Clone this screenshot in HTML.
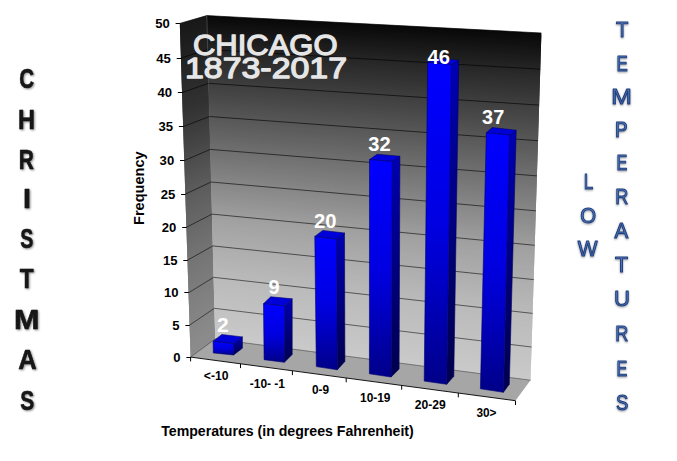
<!DOCTYPE html>
<html><head><meta charset="utf-8"><title>Chicago Christmas Low Temperatures</title>
<style>
html,body{margin:0;padding:0;background:#fff;}
body{width:677px;height:461px;overflow:hidden;font-family:"Liberation Sans",sans-serif;}
svg{display:block;}
text{font-family:"Liberation Sans",sans-serif;}
</style></head><body>
<svg width="677" height="461" viewBox="0 0 677 461">
<defs>
<linearGradient id="gBack" x1="0" y1="0" x2="0" y2="1">
<stop offset="0" stop-color="#0a0a0a"/><stop offset="0.15" stop-color="#222"/><stop offset="0.5" stop-color="#7a7a7a"/><stop offset="0.8" stop-color="#b8b8b8"/><stop offset="1" stop-color="#d0d0d0"/>
</linearGradient>
<linearGradient id="gSide" x1="0" y1="0" x2="0" y2="1">
<stop offset="0" stop-color="#111"/><stop offset="0.5" stop-color="#555"/><stop offset="1" stop-color="#8e8e8e"/>
</linearGradient>
<linearGradient id="gFront" x1="0" y1="0" x2="0" y2="1">
<stop offset="0" stop-color="#0000ff"/><stop offset="0.5" stop-color="#0000e2"/><stop offset="0.68" stop-color="#0000c6"/><stop offset="1" stop-color="#000088"/>
</linearGradient>
<linearGradient id="gBSide" x1="0" y1="0" x2="0" y2="1">
<stop offset="0" stop-color="#0000b4"/><stop offset="1" stop-color="#00004c"/>
</linearGradient>
<linearGradient id="gLet" x1="0" y1="0" x2="0" y2="1">
<stop offset="0" stop-color="#5a86cc"/><stop offset="1" stop-color="#4068ae"/>
</linearGradient>
<filter id="sh" x="-30%" y="-30%" width="160%" height="160%"><feGaussianBlur in="SourceAlpha" stdDeviation="0.9"/><feOffset dx="0.5" dy="1"/><feComponentTransfer><feFuncA type="linear" slope="0.45"/></feComponentTransfer><feMerge><feMergeNode/><feMergeNode in="SourceGraphic"/></feMerge></filter>
<filter id="sh2" x="-30%" y="-30%" width="160%" height="160%"><feGaussianBlur in="SourceAlpha" stdDeviation="0.8"/><feOffset dx="0.4" dy="0.8"/><feComponentTransfer><feFuncA type="linear" slope="0.4"/></feComponentTransfer><feMerge><feMergeNode/><feMergeNode in="SourceGraphic"/></feMerge></filter>
<linearGradient id="gCorner" gradientUnits="userSpaceOnUse" x1="0" y1="15" x2="0" y2="340"><stop offset="0" stop-color="#555" stop-opacity="0.9"/><stop offset="0.25" stop-color="#555" stop-opacity="0.5"/><stop offset="0.5" stop-color="#666" stop-opacity="0"/><stop offset="1" stop-color="#666" stop-opacity="0"/></linearGradient>
</defs>
<rect width="677" height="461" fill="#fff"/>

<g shape-rendering="geometricPrecision">
<polygon points="179.8,23.4 206.8,15.6 206.9,19.6 179.9,27.5" fill="#181818"/>
<polygon points="179.9,25.4 206.9,17.6 207.0,21.6 180.0,29.5" fill="#191919"/>
<polygon points="179.9,27.5 206.9,19.6 207.0,23.6 180.1,31.6" fill="#1a1a1a"/>
<polygon points="180.0,29.5 207.0,21.6 207.1,25.6 180.1,33.6" fill="#1a1a1a"/>
<polygon points="180.1,31.6 207.0,23.6 207.1,27.6 180.2,35.7" fill="#1b1b1b"/>
<polygon points="180.1,33.6 207.1,25.6 207.2,29.6 180.3,37.7" fill="#1b1b1b"/>
<polygon points="180.2,35.7 207.1,27.6 207.2,31.6 180.3,39.8" fill="#1c1c1c"/>
<polygon points="180.3,37.7 207.2,29.6 207.3,33.6 180.4,41.8" fill="#1d1d1d"/>
<polygon points="180.3,39.8 207.2,31.6 207.3,35.6 180.5,43.9" fill="#1d1d1d"/>
<polygon points="180.4,41.8 207.3,33.6 207.4,37.6 180.5,45.9" fill="#1e1e1e"/>
<polygon points="180.5,43.9 207.3,35.6 207.4,39.6 180.6,48.0" fill="#1e1e1e"/>
<polygon points="180.5,45.9 207.4,37.6 207.5,41.6 180.7,50.0" fill="#1f1f1f"/>
<polygon points="180.6,48.0 207.4,39.6 207.5,43.6 180.7,52.0" fill="#202020"/>
<polygon points="180.7,50.0 207.5,41.6 207.6,45.6 180.8,54.1" fill="#202020"/>
<polygon points="180.7,52.0 207.5,43.6 207.6,47.6 180.9,56.1" fill="#212121"/>
<polygon points="180.8,54.1 207.6,45.6 207.7,49.6 180.9,58.1" fill="#212121"/>
<polygon points="180.9,56.1 207.6,47.6 207.7,51.6 181.0,60.2" fill="#222222"/>
<polygon points="180.9,58.1 207.7,49.6 207.8,53.6 181.1,62.2" fill="#232323"/>
<polygon points="181.0,60.2 207.7,51.6 207.8,55.6 181.1,64.2" fill="#232323"/>
<polygon points="181.1,62.2 207.8,53.6 207.9,57.6 181.2,66.3" fill="#242424"/>
<polygon points="181.1,64.2 207.8,55.6 207.9,59.5 181.3,68.3" fill="#252525"/>
<polygon points="181.2,66.3 207.9,57.6 208.0,61.5 181.3,70.3" fill="#252525"/>
<polygon points="181.3,68.3 207.9,59.5 208.0,63.5 181.4,72.4" fill="#262626"/>
<polygon points="181.3,70.3 208.0,61.5 208.1,65.5 181.5,74.4" fill="#262626"/>
<polygon points="181.4,72.4 208.0,63.5 208.1,67.5 181.5,76.4" fill="#272727"/>
<polygon points="181.5,74.4 208.1,65.5 208.2,69.4 181.6,78.4" fill="#282828"/>
<polygon points="181.5,76.4 208.1,67.5 208.3,71.4 181.6,80.5" fill="#282828"/>
<polygon points="181.6,78.4 208.2,69.4 208.3,73.4 181.7,82.5" fill="#292929"/>
<polygon points="181.6,80.5 208.3,71.4 208.4,75.4 181.8,84.5" fill="#292929"/>
<polygon points="181.7,82.5 208.3,73.4 208.4,77.3 181.8,86.5" fill="#2a2a2a"/>
<polygon points="181.8,84.5 208.4,75.4 208.5,79.3 181.9,88.6" fill="#2b2b2b"/>
<polygon points="181.8,86.5 208.4,77.3 208.5,81.3 182.0,90.6" fill="#2b2b2b"/>
<polygon points="181.9,88.6 208.5,79.3 208.6,83.3 182.0,92.6" fill="#2c2c2c"/>
<polygon points="182.0,90.6 208.5,81.3 208.6,85.2 182.1,94.6" fill="#2c2c2c"/>
<polygon points="182.0,92.6 208.6,83.3 208.7,87.2 182.2,96.6" fill="#2d2d2d"/>
<polygon points="182.1,94.6 208.6,85.2 208.7,89.2 182.2,98.6" fill="#2e2e2e"/>
<polygon points="182.2,96.6 208.7,87.2 208.8,91.1 182.3,100.7" fill="#2e2e2e"/>
<polygon points="182.2,98.6 208.7,89.2 208.8,93.1 182.4,102.7" fill="#2f2f2f"/>
<polygon points="182.3,100.7 208.8,91.1 208.9,95.0 182.4,104.7" fill="#303030"/>
<polygon points="182.4,102.7 208.8,93.1 208.9,97.0 182.5,106.7" fill="#303030"/>
<polygon points="182.4,104.7 208.9,95.0 209.0,99.0 182.6,108.7" fill="#313131"/>
<polygon points="182.5,106.7 208.9,97.0 209.0,100.9 182.6,110.7" fill="#313131"/>
<polygon points="182.6,108.7 209.0,99.0 209.1,102.9 182.7,112.7" fill="#323232"/>
<polygon points="182.6,110.7 209.0,100.9 209.1,104.8 182.8,114.7" fill="#333333"/>
<polygon points="182.7,112.7 209.1,102.9 209.2,106.8 182.8,116.7" fill="#343434"/>
<polygon points="182.8,114.7 209.1,104.8 209.2,108.7 182.9,118.7" fill="#353535"/>
<polygon points="182.8,116.7 209.2,106.8 209.3,110.7 183.0,120.7" fill="#363636"/>
<polygon points="182.9,118.7 209.2,108.7 209.3,112.6 183.0,122.7" fill="#373737"/>
<polygon points="183.0,120.7 209.3,110.7 209.4,114.6 183.1,124.7" fill="#383838"/>
<polygon points="183.0,122.7 209.3,112.6 209.4,116.5 183.1,126.7" fill="#393939"/>
<polygon points="183.1,124.7 209.4,114.6 209.5,118.5 183.2,128.7" fill="#3a3a3a"/>
<polygon points="183.1,126.7 209.4,116.5 209.5,120.4 183.3,130.7" fill="#3b3b3b"/>
<polygon points="183.2,128.7 209.5,118.5 209.6,122.4 183.3,132.7" fill="#3c3c3c"/>
<polygon points="183.3,130.7 209.5,120.4 209.6,124.3 183.4,134.7" fill="#3d3d3d"/>
<polygon points="183.3,132.7 209.6,122.4 209.7,126.2 183.5,136.7" fill="#3e3e3e"/>
<polygon points="183.4,134.7 209.6,124.3 209.7,128.2 183.5,138.7" fill="#3f3f3f"/>
<polygon points="183.5,136.7 209.7,126.2 209.8,130.1 183.6,140.7" fill="#404040"/>
<polygon points="183.5,138.7 209.7,128.2 209.8,132.1 183.7,142.7" fill="#414141"/>
<polygon points="183.6,140.7 209.8,130.1 209.9,134.0 183.7,144.7" fill="#424242"/>
<polygon points="183.7,142.7 209.8,132.1 209.9,135.9 183.8,146.7" fill="#434343"/>
<polygon points="183.7,144.7 209.9,134.0 210.0,137.9 183.9,148.7" fill="#444444"/>
<polygon points="183.8,146.7 209.9,135.9 210.0,139.8 183.9,150.7" fill="#454545"/>
<polygon points="183.9,148.7 210.0,137.9 210.1,141.7 184.0,152.6" fill="#464646"/>
<polygon points="183.9,150.7 210.0,139.8 210.1,143.6 184.0,154.6" fill="#474747"/>
<polygon points="184.0,152.6 210.1,141.7 210.2,145.6 184.1,156.6" fill="#484848"/>
<polygon points="184.0,154.6 210.1,143.6 210.2,147.5 184.2,158.6" fill="#494949"/>
<polygon points="184.1,156.6 210.2,145.6 210.3,149.4 184.2,160.6" fill="#4a4a4a"/>
<polygon points="184.2,158.6 210.2,147.5 210.3,151.3 184.3,162.6" fill="#4b4b4b"/>
<polygon points="184.2,160.6 210.3,149.4 210.4,153.3 184.4,164.5" fill="#4c4c4c"/>
<polygon points="184.3,162.6 210.3,151.3 210.4,155.2 184.4,166.5" fill="#4d4d4d"/>
<polygon points="184.4,164.5 210.4,153.3 210.5,157.1 184.5,168.5" fill="#4e4e4e"/>
<polygon points="184.4,166.5 210.4,155.2 210.5,159.0 184.6,170.5" fill="#4f4f4f"/>
<polygon points="184.5,168.5 210.5,157.1 210.6,160.9 184.6,172.4" fill="#505050"/>
<polygon points="184.6,170.5 210.5,159.0 210.6,162.9 184.7,174.4" fill="#515151"/>
<polygon points="184.6,172.4 210.6,160.9 210.7,164.8 184.8,176.4" fill="#525252"/>
<polygon points="184.7,174.4 210.6,162.9 210.7,166.7 184.8,178.4" fill="#535353"/>
<polygon points="184.8,176.4 210.7,164.8 210.8,168.6 184.9,180.3" fill="#545454"/>
<polygon points="184.8,178.4 210.7,166.7 210.8,170.5 184.9,182.3" fill="#555555"/>
<polygon points="184.9,180.3 210.8,168.6 210.9,172.4 185.0,184.3" fill="#565656"/>
<polygon points="184.9,182.3 210.8,170.5 210.9,174.3 185.1,186.2" fill="#575757"/>
<polygon points="185.0,184.3 210.9,172.4 211.0,176.2 185.1,188.2" fill="#585858"/>
<polygon points="185.1,186.2 210.9,174.3 211.0,178.1 185.2,190.2" fill="#595959"/>
<polygon points="185.1,188.2 211.0,176.2 211.1,180.0 185.3,192.1" fill="#5a5a5a"/>
<polygon points="185.2,190.2 211.0,178.1 211.1,182.0 185.3,194.1" fill="#5b5b5b"/>
<polygon points="185.3,192.1 211.1,180.0 211.2,183.9 185.4,196.1" fill="#5c5c5c"/>
<polygon points="185.3,194.1 211.1,182.0 211.2,185.8 185.5,198.0" fill="#5c5c5c"/>
<polygon points="185.4,196.1 211.2,183.9 211.3,187.7 185.5,200.0" fill="#5d5d5d"/>
<polygon points="185.5,198.0 211.2,185.8 211.3,189.6 185.6,201.9" fill="#5e5e5e"/>
<polygon points="185.5,200.0 211.3,187.7 211.4,191.4 185.6,203.9" fill="#5e5e5e"/>
<polygon points="185.6,201.9 211.3,189.6 211.4,193.3 185.7,205.9" fill="#5f5f5f"/>
<polygon points="185.6,203.9 211.4,191.4 211.5,195.2 185.8,207.8" fill="#606060"/>
<polygon points="185.7,205.9 211.4,193.3 211.5,197.1 185.8,209.8" fill="#616161"/>
<polygon points="185.8,207.8 211.5,195.2 211.6,199.0 185.9,211.7" fill="#616161"/>
<polygon points="185.8,209.8 211.5,197.1 211.6,200.9 186.0,213.7" fill="#626262"/>
<polygon points="185.9,211.7 211.6,199.0 211.7,202.8 186.0,215.6" fill="#636363"/>
<polygon points="186.0,213.7 211.6,200.9 211.7,204.7 186.1,217.6" fill="#636363"/>
<polygon points="186.0,215.6 211.7,202.8 211.8,206.6 186.1,219.5" fill="#646464"/>
<polygon points="186.1,217.6 211.7,204.7 211.8,208.5 186.2,221.5" fill="#656565"/>
<polygon points="186.1,219.5 211.8,206.6 211.9,210.3 186.3,223.4" fill="#666666"/>
<polygon points="186.2,221.5 211.8,208.5 211.9,212.2 186.3,225.4" fill="#666666"/>
<polygon points="186.3,223.4 211.9,210.3 212.0,214.1 186.4,227.3" fill="#676767"/>
<polygon points="186.3,225.4 211.9,212.2 212.0,216.0 186.5,229.3" fill="#686868"/>
<polygon points="186.4,227.3 212.0,214.1 212.1,217.9 186.5,231.2" fill="#686868"/>
<polygon points="186.5,229.3 212.0,216.0 212.1,219.7 186.6,233.1" fill="#696969"/>
<polygon points="186.5,231.2 212.1,217.9 212.2,221.6 186.7,235.1" fill="#6a6a6a"/>
<polygon points="186.6,233.1 212.1,219.7 212.2,223.5 186.7,237.0" fill="#6a6a6a"/>
<polygon points="186.7,235.1 212.2,221.6 212.2,225.4 186.8,239.0" fill="#6b6b6b"/>
<polygon points="186.7,237.0 212.2,223.5 212.3,227.2 186.8,240.9" fill="#6c6c6c"/>
<polygon points="186.8,239.0 212.2,225.4 212.3,229.1 186.9,242.8" fill="#6d6d6d"/>
<polygon points="186.8,240.9 212.3,227.2 212.4,231.0 187.0,244.8" fill="#6d6d6d"/>
<polygon points="186.9,242.8 212.3,229.1 212.4,232.8 187.0,246.7" fill="#6e6e6e"/>
<polygon points="187.0,244.8 212.4,231.0 212.5,234.7 187.1,248.6" fill="#6f6f6f"/>
<polygon points="187.0,246.7 212.4,232.8 212.5,236.6 187.2,250.6" fill="#6f6f6f"/>
<polygon points="187.1,248.6 212.5,234.7 212.6,238.4 187.2,252.5" fill="#707070"/>
<polygon points="187.2,250.6 212.5,236.6 212.6,240.3 187.3,254.4" fill="#717171"/>
<polygon points="187.2,252.5 212.6,238.4 212.7,242.2 187.3,256.4" fill="#727272"/>
<polygon points="187.3,254.4 212.6,240.3 212.7,244.0 187.4,258.3" fill="#727272"/>
<polygon points="187.3,256.4 212.7,242.2 212.8,245.9 187.5,260.2" fill="#737373"/>
<polygon points="187.4,258.3 212.7,244.0 212.8,247.7 187.5,262.1" fill="#747474"/>
<polygon points="187.5,260.2 212.8,245.9 212.9,249.6 187.6,264.1" fill="#747474"/>
<polygon points="187.5,262.1 212.8,247.7 212.9,251.5 187.7,266.0" fill="#757575"/>
<polygon points="187.6,264.1 212.9,249.6 213.0,253.3 187.7,267.9" fill="#757575"/>
<polygon points="187.7,266.0 212.9,251.5 213.0,255.2 187.8,269.8" fill="#767676"/>
<polygon points="187.7,267.9 213.0,253.3 213.1,257.0 187.8,271.8" fill="#767676"/>
<polygon points="187.8,269.8 213.0,255.2 213.1,258.9 187.9,273.7" fill="#777777"/>
<polygon points="187.8,271.8 213.1,257.0 213.2,260.7 188.0,275.6" fill="#777777"/>
<polygon points="187.9,273.7 213.1,258.9 213.2,262.6 188.0,277.5" fill="#787878"/>
<polygon points="188.0,275.6 213.2,260.7 213.3,264.4 188.1,279.4" fill="#787878"/>
<polygon points="188.0,277.5 213.2,262.6 213.3,266.3 188.1,281.3" fill="#797979"/>
<polygon points="188.1,279.4 213.3,264.4 213.4,268.1 188.2,283.3" fill="#797979"/>
<polygon points="188.1,281.3 213.3,266.3 213.4,269.9 188.3,285.2" fill="#7a7a7a"/>
<polygon points="188.2,283.3 213.4,268.1 213.5,271.8 188.3,287.1" fill="#7a7a7a"/>
<polygon points="188.3,285.2 213.4,269.9 213.5,273.6 188.4,289.0" fill="#7b7b7b"/>
<polygon points="188.3,287.1 213.5,271.8 213.5,275.5 188.5,290.9" fill="#7c7c7c"/>
<polygon points="188.4,289.0 213.5,273.6 213.6,277.3 188.5,292.8" fill="#7c7c7c"/>
<polygon points="188.5,290.9 213.5,275.5 213.6,279.1 188.6,294.7" fill="#7d7d7d"/>
<polygon points="188.5,292.8 213.6,277.3 213.7,281.0 188.6,296.6" fill="#7d7d7d"/>
<polygon points="188.6,294.7 213.6,279.1 213.7,282.8 188.7,298.5" fill="#7e7e7e"/>
<polygon points="188.6,296.6 213.7,281.0 213.8,284.6 188.8,300.4" fill="#7e7e7e"/>
<polygon points="188.7,298.5 213.7,282.8 213.8,286.5 188.8,302.3" fill="#7f7f7f"/>
<polygon points="188.8,300.4 213.8,284.6 213.9,288.3 188.9,304.2" fill="#7f7f7f"/>
<polygon points="188.8,302.3 213.8,286.5 213.9,290.1 189.0,306.1" fill="#808080"/>
<polygon points="188.9,304.2 213.9,288.3 214.0,291.9 189.0,308.0" fill="#808080"/>
<polygon points="189.0,306.1 213.9,290.1 214.0,293.8 189.1,309.9" fill="#818181"/>
<polygon points="189.0,308.0 214.0,291.9 214.1,295.6 189.1,311.8" fill="#818181"/>
<polygon points="189.1,309.9 214.0,293.8 214.1,297.4 189.2,313.7" fill="#828282"/>
<polygon points="189.1,311.8 214.1,295.6 214.2,299.2 189.3,315.6" fill="#828282"/>
<polygon points="189.2,313.7 214.1,297.4 214.2,301.1 189.3,317.5" fill="#838383"/>
<polygon points="189.3,315.6 214.2,299.2 214.3,302.9 189.4,319.4" fill="#838383"/>
<polygon points="189.3,317.5 214.2,301.1 214.3,304.7 189.4,321.3" fill="#848484"/>
<polygon points="189.4,319.4 214.3,302.9 214.4,306.5 189.5,323.2" fill="#848484"/>
<polygon points="189.4,321.3 214.3,304.7 214.4,308.3 189.6,325.1" fill="#858585"/>
<polygon points="189.5,323.2 214.4,306.5 214.5,310.1 189.6,327.0" fill="#858585"/>
<polygon points="189.6,325.1 214.4,308.3 214.5,312.0 189.7,328.9" fill="#868686"/>
<polygon points="189.6,327.0 214.5,310.1 214.5,313.8 189.7,330.8" fill="#868686"/>
<polygon points="189.7,328.9 214.5,312.0 214.6,315.6 189.8,332.6" fill="#878787"/>
<polygon points="189.7,330.8 214.5,313.8 214.6,317.4 189.9,334.5" fill="#878787"/>
<polygon points="189.8,332.6 214.6,315.6 214.7,319.2 189.9,336.4" fill="#888888"/>
<polygon points="189.9,334.5 214.6,317.4 214.7,321.0 190.0,338.3" fill="#888888"/>
<polygon points="189.9,336.4 214.7,319.2 214.8,322.8 190.1,340.2" fill="#898989"/>
<polygon points="190.0,338.3 214.7,321.0 214.8,324.6 190.1,342.1" fill="#898989"/>
<polygon points="190.1,340.2 214.8,322.8 214.9,326.4 190.2,343.9" fill="#8a8a8a"/>
<polygon points="190.1,342.1 214.8,324.6 214.9,328.2 190.2,345.8" fill="#8a8a8a"/>
<polygon points="190.2,343.9 214.9,326.4 215.0,330.0 190.3,347.7" fill="#8a8a8a"/>
<polygon points="190.2,345.8 214.9,328.2 215.0,331.8 190.4,349.6" fill="#8b8b8b"/>
<polygon points="190.3,347.7 215.0,330.0 215.1,333.6 190.4,351.5" fill="#8b8b8b"/>
<polygon points="190.4,349.6 215.0,331.8 215.1,335.4 190.5,353.3" fill="#8b8b8b"/>
<polygon points="190.4,351.5 215.1,333.6 215.2,337.2 190.5,355.2" fill="#8b8b8b"/>
<polygon points="190.5,353.3 215.1,335.4 215.2,339.0 190.6,357.1" fill="#8c8c8c"/>
<polygon points="190.5,355.2 215.2,337.2 215.2,339.0 190.6,357.1" fill="#8c8c8c"/>
<polygon points="206.8,15.6 541.4,33.0 541.3,37.3 206.9,19.6" fill="#090909"/>
<polygon points="206.9,17.6 541.3,35.1 541.2,39.4 207.0,21.6" fill="#0b0b0b"/>
<polygon points="206.9,19.6 541.3,37.3 541.1,41.6 207.0,23.6" fill="#0c0c0c"/>
<polygon points="207.0,21.6 541.2,39.4 541.1,43.7 207.1,25.6" fill="#0e0e0e"/>
<polygon points="207.0,23.6 541.1,41.6 541.0,45.8 207.1,27.6" fill="#101010"/>
<polygon points="207.1,25.6 541.1,43.7 540.9,48.0 207.2,29.6" fill="#111111"/>
<polygon points="207.1,27.6 541.0,45.8 540.9,50.1 207.2,31.6" fill="#131313"/>
<polygon points="207.2,29.6 540.9,48.0 540.8,52.2 207.3,33.6" fill="#151515"/>
<polygon points="207.2,31.6 540.9,50.1 540.7,54.4 207.3,35.6" fill="#171717"/>
<polygon points="207.3,33.6 540.8,52.2 540.7,56.5 207.4,37.6" fill="#181818"/>
<polygon points="207.3,35.6 540.7,54.4 540.6,58.6 207.4,39.6" fill="#1a1a1a"/>
<polygon points="207.4,37.6 540.7,56.5 540.5,60.7 207.5,41.6" fill="#1c1c1c"/>
<polygon points="207.4,39.6 540.6,58.6 540.5,62.9 207.5,43.6" fill="#1d1d1d"/>
<polygon points="207.5,41.6 540.5,60.7 540.4,65.0 207.6,45.6" fill="#1f1f1f"/>
<polygon points="207.5,43.6 540.5,62.9 540.3,67.1 207.6,47.6" fill="#212121"/>
<polygon points="207.6,45.6 540.4,65.0 540.3,69.2 207.7,49.6" fill="#232323"/>
<polygon points="207.6,47.6 540.3,67.1 540.2,71.4 207.7,51.6" fill="#242424"/>
<polygon points="207.7,49.6 540.3,69.2 540.1,73.5 207.8,53.6" fill="#262626"/>
<polygon points="207.7,51.6 540.2,71.4 540.1,75.6 207.8,55.6" fill="#282828"/>
<polygon points="207.8,53.6 540.1,73.5 540.0,77.7 207.9,57.6" fill="#292929"/>
<polygon points="207.8,55.6 540.1,75.6 539.9,79.8 207.9,59.5" fill="#2b2b2b"/>
<polygon points="207.9,57.6 540.0,77.7 539.9,81.9 208.0,61.5" fill="#2c2c2c"/>
<polygon points="207.9,59.5 539.9,79.8 539.8,84.1 208.0,63.5" fill="#2e2e2e"/>
<polygon points="208.0,61.5 539.9,81.9 539.7,86.2 208.1,65.5" fill="#2f2f2f"/>
<polygon points="208.0,63.5 539.8,84.1 539.7,88.3 208.1,67.5" fill="#313131"/>
<polygon points="208.1,65.5 539.7,86.2 539.6,90.4 208.2,69.4" fill="#323232"/>
<polygon points="208.1,67.5 539.7,88.3 539.5,92.5 208.3,71.4" fill="#333333"/>
<polygon points="208.2,69.4 539.6,90.4 539.5,94.6 208.3,73.4" fill="#353535"/>
<polygon points="208.3,71.4 539.5,92.5 539.4,96.7 208.4,75.4" fill="#363636"/>
<polygon points="208.3,73.4 539.5,94.6 539.3,98.8 208.4,77.3" fill="#383838"/>
<polygon points="208.4,75.4 539.4,96.7 539.3,100.9 208.5,79.3" fill="#393939"/>
<polygon points="208.4,77.3 539.3,98.8 539.2,103.0 208.5,81.3" fill="#3b3b3b"/>
<polygon points="208.5,79.3 539.3,100.9 539.1,105.1 208.6,83.3" fill="#3c3c3c"/>
<polygon points="208.5,81.3 539.2,103.0 539.1,107.2 208.6,85.2" fill="#3e3e3e"/>
<polygon points="208.6,83.3 539.1,105.1 539.0,109.3 208.7,87.2" fill="#3f3f3f"/>
<polygon points="208.6,85.2 539.1,107.2 538.9,111.4 208.7,89.2" fill="#414141"/>
<polygon points="208.7,87.2 539.0,109.3 538.9,113.5 208.8,91.1" fill="#424242"/>
<polygon points="208.7,89.2 538.9,111.4 538.8,115.6 208.8,93.1" fill="#444444"/>
<polygon points="208.8,91.1 538.9,113.5 538.7,117.7 208.9,95.0" fill="#454545"/>
<polygon points="208.8,93.1 538.8,115.6 538.7,119.8 208.9,97.0" fill="#464646"/>
<polygon points="208.9,95.0 538.7,117.7 538.6,121.9 209.0,99.0" fill="#484848"/>
<polygon points="208.9,97.0 538.7,119.8 538.5,124.0 209.0,100.9" fill="#494949"/>
<polygon points="209.0,99.0 538.6,121.9 538.5,126.1 209.1,102.9" fill="#4b4b4b"/>
<polygon points="209.0,100.9 538.5,124.0 538.4,128.2 209.1,104.8" fill="#4c4c4c"/>
<polygon points="209.1,102.9 538.5,126.1 538.3,130.3 209.2,106.8" fill="#4e4e4e"/>
<polygon points="209.1,104.8 538.4,128.2 538.3,132.3 209.2,108.7" fill="#4f4f4f"/>
<polygon points="209.2,106.8 538.3,130.3 538.2,134.4 209.3,110.7" fill="#515151"/>
<polygon points="209.2,108.7 538.3,132.3 538.2,136.5 209.3,112.6" fill="#525252"/>
<polygon points="209.3,110.7 538.2,134.4 538.1,138.6 209.4,114.6" fill="#535353"/>
<polygon points="209.3,112.6 538.2,136.5 538.0,140.7 209.4,116.5" fill="#555555"/>
<polygon points="209.4,114.6 538.1,138.6 538.0,142.8 209.5,118.5" fill="#565656"/>
<polygon points="209.4,116.5 538.0,140.7 537.9,144.8 209.5,120.4" fill="#585858"/>
<polygon points="209.5,118.5 538.0,142.8 537.8,146.9 209.6,122.4" fill="#595959"/>
<polygon points="209.5,120.4 537.9,144.8 537.8,149.0 209.6,124.3" fill="#5b5b5b"/>
<polygon points="209.6,122.4 537.8,146.9 537.7,151.1 209.7,126.2" fill="#5c5c5c"/>
<polygon points="209.6,124.3 537.8,149.0 537.6,153.2 209.7,128.2" fill="#5d5d5d"/>
<polygon points="209.7,126.2 537.7,151.1 537.6,155.2 209.8,130.1" fill="#5f5f5f"/>
<polygon points="209.7,128.2 537.6,153.2 537.5,157.3 209.8,132.1" fill="#606060"/>
<polygon points="209.8,130.1 537.6,155.2 537.4,159.4 209.9,134.0" fill="#626262"/>
<polygon points="209.8,132.1 537.5,157.3 537.4,161.4 209.9,135.9" fill="#636363"/>
<polygon points="209.9,134.0 537.4,159.4 537.3,163.5 210.0,137.9" fill="#646464"/>
<polygon points="209.9,135.9 537.4,161.4 537.2,165.6 210.0,139.8" fill="#666666"/>
<polygon points="210.0,137.9 537.3,163.5 537.2,167.6 210.1,141.7" fill="#676767"/>
<polygon points="210.0,139.8 537.2,165.6 537.1,169.7 210.1,143.6" fill="#696969"/>
<polygon points="210.1,141.7 537.2,167.6 537.0,171.8 210.2,145.6" fill="#6a6a6a"/>
<polygon points="210.1,143.6 537.1,169.7 537.0,173.8 210.2,147.5" fill="#6c6c6c"/>
<polygon points="210.2,145.6 537.0,171.8 536.9,175.9 210.3,149.4" fill="#6d6d6d"/>
<polygon points="210.2,147.5 537.0,173.8 536.8,178.0 210.3,151.3" fill="#6e6e6e"/>
<polygon points="210.3,149.4 536.9,175.9 536.8,180.0 210.4,153.3" fill="#707070"/>
<polygon points="210.3,151.3 536.8,178.0 536.7,182.1 210.4,155.2" fill="#717171"/>
<polygon points="210.4,153.3 536.8,180.0 536.7,184.1 210.5,157.1" fill="#737373"/>
<polygon points="210.4,155.2 536.7,182.1 536.6,186.2 210.5,159.0" fill="#747474"/>
<polygon points="210.5,157.1 536.7,184.1 536.5,188.3 210.6,160.9" fill="#757575"/>
<polygon points="210.5,159.0 536.6,186.2 536.5,190.3 210.6,162.9" fill="#777777"/>
<polygon points="210.6,160.9 536.5,188.3 536.4,192.4 210.7,164.8" fill="#787878"/>
<polygon points="210.6,162.9 536.5,190.3 536.3,194.4 210.7,166.7" fill="#7a7a7a"/>
<polygon points="210.7,164.8 536.4,192.4 536.3,196.5 210.8,168.6" fill="#7b7b7b"/>
<polygon points="210.7,166.7 536.3,194.4 536.2,198.5 210.8,170.5" fill="#7c7c7c"/>
<polygon points="210.8,168.6 536.3,196.5 536.1,200.6 210.9,172.4" fill="#7e7e7e"/>
<polygon points="210.8,170.5 536.2,198.5 536.1,202.6 210.9,174.3" fill="#7f7f7f"/>
<polygon points="210.9,172.4 536.1,200.6 536.0,204.7 211.0,176.2" fill="#808080"/>
<polygon points="210.9,174.3 536.1,202.6 535.9,206.7 211.0,178.1" fill="#828282"/>
<polygon points="211.0,176.2 536.0,204.7 535.9,208.7 211.1,180.0" fill="#838383"/>
<polygon points="211.0,178.1 535.9,206.7 535.8,210.8 211.1,182.0" fill="#858585"/>
<polygon points="211.1,180.0 535.9,208.7 535.8,212.8 211.2,183.9" fill="#868686"/>
<polygon points="211.1,182.0 535.8,210.8 535.7,214.9 211.2,185.8" fill="#878787"/>
<polygon points="211.2,183.9 535.8,212.8 535.6,216.9 211.3,187.7" fill="#898989"/>
<polygon points="211.2,185.8 535.7,214.9 535.6,218.9 211.3,189.6" fill="#8a8a8a"/>
<polygon points="211.3,187.7 535.6,216.9 535.5,221.0 211.4,191.4" fill="#8b8b8b"/>
<polygon points="211.3,189.6 535.6,218.9 535.4,223.0 211.4,193.3" fill="#8d8d8d"/>
<polygon points="211.4,191.4 535.5,221.0 535.4,225.1 211.5,195.2" fill="#8e8e8e"/>
<polygon points="211.4,193.3 535.4,223.0 535.3,227.1 211.5,197.1" fill="#8f8f8f"/>
<polygon points="211.5,195.2 535.4,225.1 535.2,229.1 211.6,199.0" fill="#919191"/>
<polygon points="211.5,197.1 535.3,227.1 535.2,231.2 211.6,200.9" fill="#929292"/>
<polygon points="211.6,199.0 535.2,229.1 535.1,233.2 211.7,202.8" fill="#939393"/>
<polygon points="211.6,200.9 535.2,231.2 535.1,235.2 211.7,204.7" fill="#959595"/>
<polygon points="211.7,202.8 535.1,233.2 535.0,237.2 211.8,206.6" fill="#969696"/>
<polygon points="211.7,204.7 535.1,235.2 534.9,239.3 211.8,208.5" fill="#989898"/>
<polygon points="211.8,206.6 535.0,237.2 534.9,241.3 211.9,210.3" fill="#999999"/>
<polygon points="211.8,208.5 534.9,239.3 534.8,243.3 211.9,212.2" fill="#9a9a9a"/>
<polygon points="211.9,210.3 534.9,241.3 534.7,245.3 212.0,214.1" fill="#9c9c9c"/>
<polygon points="211.9,212.2 534.8,243.3 534.7,247.4 212.0,216.0" fill="#9d9d9d"/>
<polygon points="212.0,214.1 534.7,245.3 534.6,249.4 212.1,217.9" fill="#9e9e9e"/>
<polygon points="212.0,216.0 534.7,247.4 534.5,251.4 212.1,219.7" fill="#a0a0a0"/>
<polygon points="212.1,217.9 534.6,249.4 534.5,253.4 212.2,221.6" fill="#a1a1a1"/>
<polygon points="212.1,219.7 534.5,251.4 534.4,255.4 212.2,223.5" fill="#a2a2a2"/>
<polygon points="212.2,221.6 534.5,253.4 534.4,257.5 212.2,225.4" fill="#a3a3a3"/>
<polygon points="212.2,223.5 534.4,255.4 534.3,259.5 212.3,227.2" fill="#a4a4a4"/>
<polygon points="212.2,225.4 534.4,257.5 534.2,261.5 212.3,229.1" fill="#a5a5a5"/>
<polygon points="212.3,227.2 534.3,259.5 534.2,263.5 212.4,231.0" fill="#a5a5a5"/>
<polygon points="212.3,229.1 534.2,261.5 534.1,265.5 212.4,232.8" fill="#a6a6a6"/>
<polygon points="212.4,231.0 534.2,263.5 534.0,267.5 212.5,234.7" fill="#a7a7a7"/>
<polygon points="212.4,232.8 534.1,265.5 534.0,269.5 212.5,236.6" fill="#a8a8a8"/>
<polygon points="212.5,234.7 534.0,267.5 533.9,271.5 212.6,238.4" fill="#a9a9a9"/>
<polygon points="212.5,236.6 534.0,269.5 533.8,273.5 212.6,240.3" fill="#a9a9a9"/>
<polygon points="212.6,238.4 533.9,271.5 533.8,275.5 212.7,242.2" fill="#aaaaaa"/>
<polygon points="212.6,240.3 533.8,273.5 533.7,277.5 212.7,244.0" fill="#ababab"/>
<polygon points="212.7,242.2 533.8,275.5 533.7,279.6 212.8,245.9" fill="#acacac"/>
<polygon points="212.7,244.0 533.7,277.5 533.6,281.6 212.8,247.7" fill="#acacac"/>
<polygon points="212.8,245.9 533.7,279.6 533.5,283.6 212.9,249.6" fill="#adadad"/>
<polygon points="212.8,247.7 533.6,281.6 533.5,285.6 212.9,251.5" fill="#aeaeae"/>
<polygon points="212.9,249.6 533.5,283.6 533.4,287.6 213.0,253.3" fill="#afafaf"/>
<polygon points="212.9,251.5 533.5,285.6 533.3,289.6 213.0,255.2" fill="#b0b0b0"/>
<polygon points="213.0,253.3 533.4,287.6 533.3,291.5 213.1,257.0" fill="#b0b0b0"/>
<polygon points="213.0,255.2 533.3,289.6 533.2,293.5 213.1,258.9" fill="#b1b1b1"/>
<polygon points="213.1,257.0 533.3,291.5 533.2,295.5 213.2,260.7" fill="#b2b2b2"/>
<polygon points="213.1,258.9 533.2,293.5 533.1,297.5 213.2,262.6" fill="#b3b3b3"/>
<polygon points="213.2,260.7 533.2,295.5 533.0,299.5 213.3,264.4" fill="#b4b4b4"/>
<polygon points="213.2,262.6 533.1,297.5 533.0,301.5 213.3,266.3" fill="#b4b4b4"/>
<polygon points="213.3,264.4 533.0,299.5 532.9,303.5 213.4,268.1" fill="#b5b5b5"/>
<polygon points="213.3,266.3 533.0,301.5 532.8,305.5 213.4,269.9" fill="#b6b6b6"/>
<polygon points="213.4,268.1 532.9,303.5 532.8,307.5 213.5,271.8" fill="#b7b7b7"/>
<polygon points="213.4,269.9 532.8,305.5 532.7,309.5 213.5,273.6" fill="#b8b8b8"/>
<polygon points="213.5,271.8 532.8,307.5 532.7,311.4 213.5,275.5" fill="#b8b8b8"/>
<polygon points="213.5,273.6 532.7,309.5 532.6,313.4 213.6,277.3" fill="#b9b9b9"/>
<polygon points="213.5,275.5 532.7,311.4 532.5,315.4 213.6,279.1" fill="#bababa"/>
<polygon points="213.6,277.3 532.6,313.4 532.5,317.4 213.7,281.0" fill="#bababa"/>
<polygon points="213.6,279.1 532.5,315.4 532.4,319.4 213.7,282.8" fill="#bbbbbb"/>
<polygon points="213.7,281.0 532.5,317.4 532.3,321.4 213.8,284.6" fill="#bbbbbb"/>
<polygon points="213.7,282.8 532.4,319.4 532.3,323.3 213.8,286.5" fill="#bcbcbc"/>
<polygon points="213.8,284.6 532.3,321.4 532.2,325.3 213.9,288.3" fill="#bcbcbc"/>
<polygon points="213.8,286.5 532.3,323.3 532.2,327.3 213.9,290.1" fill="#bdbdbd"/>
<polygon points="213.9,288.3 532.2,325.3 532.1,329.3 214.0,291.9" fill="#bdbdbd"/>
<polygon points="213.9,290.1 532.2,327.3 532.0,331.2 214.0,293.8" fill="#bebebe"/>
<polygon points="214.0,291.9 532.1,329.3 532.0,333.2 214.1,295.6" fill="#bebebe"/>
<polygon points="214.0,293.8 532.0,331.2 531.9,335.2 214.1,297.4" fill="#bfbfbf"/>
<polygon points="214.1,295.6 532.0,333.2 531.9,337.1 214.2,299.2" fill="#bfbfbf"/>
<polygon points="214.1,297.4 531.9,335.2 531.8,339.1 214.2,301.1" fill="#bfbfbf"/>
<polygon points="214.2,299.2 531.9,337.1 531.7,341.1 214.3,302.9" fill="#c0c0c0"/>
<polygon points="214.2,301.1 531.8,339.1 531.7,343.0 214.3,304.7" fill="#c0c0c0"/>
<polygon points="214.3,302.9 531.7,341.1 531.6,345.0 214.4,306.5" fill="#c1c1c1"/>
<polygon points="214.3,304.7 531.7,343.0 531.5,347.0 214.4,308.3" fill="#c1c1c1"/>
<polygon points="214.4,306.5 531.6,345.0 531.5,348.9 214.5,310.1" fill="#c2c2c2"/>
<polygon points="214.4,308.3 531.5,347.0 531.4,350.9 214.5,312.0" fill="#c2c2c2"/>
<polygon points="214.5,310.1 531.5,348.9 531.4,352.9 214.5,313.8" fill="#c3c3c3"/>
<polygon points="214.5,312.0 531.4,350.9 531.3,354.8 214.6,315.6" fill="#c3c3c3"/>
<polygon points="214.5,313.8 531.4,352.9 531.2,356.8 214.6,317.4" fill="#c4c4c4"/>
<polygon points="214.6,315.6 531.3,354.8 531.2,358.7 214.7,319.2" fill="#c4c4c4"/>
<polygon points="214.6,317.4 531.2,356.8 531.1,360.7 214.7,321.0" fill="#c4c4c4"/>
<polygon points="214.7,319.2 531.2,358.7 531.1,362.6 214.8,322.8" fill="#c5c5c5"/>
<polygon points="214.7,321.0 531.1,360.7 531.0,364.6 214.8,324.6" fill="#c5c5c5"/>
<polygon points="214.8,322.8 531.1,362.6 530.9,366.5 214.9,326.4" fill="#c6c6c6"/>
<polygon points="214.8,324.6 531.0,364.6 530.9,368.5 214.9,328.2" fill="#c6c6c6"/>
<polygon points="214.9,326.4 530.9,366.5 530.8,370.4 215.0,330.0" fill="#c7c7c7"/>
<polygon points="214.9,328.2 530.9,368.5 530.7,372.4 215.0,331.8" fill="#c7c7c7"/>
<polygon points="215.0,330.0 530.8,370.4 530.7,374.3 215.1,333.6" fill="#c8c8c8"/>
<polygon points="215.0,331.8 530.7,372.4 530.6,376.3 215.1,335.4" fill="#c8c8c8"/>
<polygon points="215.1,333.6 530.7,374.3 530.6,378.2 215.2,337.2" fill="#c9c9c9"/>
<polygon points="215.1,335.4 530.6,376.3 530.5,380.2 215.2,339.0" fill="#c9c9c9"/>
<polygon points="215.2,337.2 530.6,378.2 530.5,380.2 215.2,339.0" fill="#cacaca"/>
</g>
<polygon points="190.6,357.1 215.2,339.0 530.5,380.2 515.4,400.7" fill="#a6a6a6"/>
<polyline points="190.6,357.1 215.2,339.0 530.5,380.2" fill="none" stroke="#000" stroke-width="0.72" opacity="0.55"/>
<polyline points="189.6,325.1 214.4,308.3 531.5,347.0" fill="none" stroke="#000" stroke-width="0.72" opacity="0.74"/>
<polyline points="188.5,292.8 213.6,277.3 532.6,313.4" fill="none" stroke="#000" stroke-width="0.72" opacity="0.76"/>
<polyline points="187.5,260.2 212.8,245.9 533.7,279.6" fill="none" stroke="#000" stroke-width="0.72" opacity="0.78"/>
<polyline points="186.4,227.3 212.0,214.1 534.7,245.3" fill="none" stroke="#000" stroke-width="0.72" opacity="0.80"/>
<polyline points="185.3,194.1 211.1,182.0 535.8,210.8" fill="none" stroke="#000" stroke-width="0.72" opacity="0.82"/>
<polyline points="184.2,160.6 210.3,149.4 536.9,175.9" fill="none" stroke="#000" stroke-width="0.72" opacity="0.84"/>
<polyline points="183.1,126.7 209.4,116.5 538.0,140.7" fill="none" stroke="#000" stroke-width="0.72" opacity="0.86"/>
<polyline points="182.0,92.6 208.6,83.3 539.1,105.1" fill="none" stroke="#000" stroke-width="0.72" opacity="0.88"/>
<polyline points="180.9,58.1 207.7,49.6 540.3,69.2" fill="none" stroke="#000" stroke-width="0.72" opacity="0.90"/>
<polyline points="179.8,23.4 206.8,15.6 541.4,33.0" fill="none" stroke="#000" stroke-width="0.72" opacity="0.92"/>
<line x1="215.2" y1="339.0" x2="206.8" y2="15.6" stroke="url(#gCorner)" stroke-width="0.8"/>
<line x1="186.4" y1="357.5" x2="190.9" y2="357.5" stroke="#000" stroke-width="1"/>
<text x="180.6" y="361.5" font-size="13.1" font-weight="bold" text-anchor="end" fill="#000">0</text>
<line x1="185.4" y1="325.5" x2="189.9" y2="325.5" stroke="#000" stroke-width="1"/>
<text x="179.6" y="329.5" font-size="13.1" font-weight="bold" text-anchor="end" fill="#000">5</text>
<line x1="184.3" y1="292.5" x2="188.8" y2="292.5" stroke="#000" stroke-width="1"/>
<text x="178.5" y="297.2" font-size="13.1" font-weight="bold" text-anchor="end" fill="#000">10</text>
<line x1="183.3" y1="260.5" x2="187.8" y2="260.5" stroke="#000" stroke-width="1"/>
<text x="177.5" y="264.6" font-size="13.1" font-weight="bold" text-anchor="end" fill="#000">15</text>
<line x1="182.2" y1="227.5" x2="186.7" y2="227.5" stroke="#000" stroke-width="1"/>
<text x="176.4" y="231.7" font-size="13.1" font-weight="bold" text-anchor="end" fill="#000">20</text>
<line x1="181.1" y1="194.5" x2="185.6" y2="194.5" stroke="#000" stroke-width="1"/>
<text x="175.3" y="198.5" font-size="13.1" font-weight="bold" text-anchor="end" fill="#000">25</text>
<line x1="180.0" y1="160.5" x2="184.5" y2="160.5" stroke="#000" stroke-width="1"/>
<text x="174.2" y="165.0" font-size="13.1" font-weight="bold" text-anchor="end" fill="#000">30</text>
<line x1="178.9" y1="126.5" x2="183.4" y2="126.5" stroke="#000" stroke-width="1"/>
<text x="173.1" y="131.1" font-size="13.1" font-weight="bold" text-anchor="end" fill="#000">35</text>
<line x1="177.8" y1="92.5" x2="182.3" y2="92.5" stroke="#000" stroke-width="1"/>
<text x="172.0" y="97.0" font-size="13.1" font-weight="bold" text-anchor="end" fill="#000">40</text>
<line x1="176.7" y1="58.5" x2="181.2" y2="58.5" stroke="#000" stroke-width="1"/>
<text x="170.9" y="62.5" font-size="13.1" font-weight="bold" text-anchor="end" fill="#000">45</text>
<line x1="175.6" y1="23.5" x2="180.1" y2="23.5" stroke="#000" stroke-width="1"/>
<text x="169.8" y="27.8" font-size="13.1" font-weight="bold" text-anchor="end" fill="#000">50</text>
<line x1="190.6" y1="357.1" x2="515.4" y2="400.7" stroke="#000" stroke-width="0.9"/>
<line x1="190.6" y1="357.1" x2="190.6" y2="361.4" stroke="#000" stroke-width="1"/>
<line x1="240.5" y1="363.8" x2="240.5" y2="368.1" stroke="#000" stroke-width="1"/>
<line x1="292.4" y1="370.8" x2="292.4" y2="375.1" stroke="#000" stroke-width="1"/>
<line x1="346.2" y1="378.0" x2="346.2" y2="382.3" stroke="#000" stroke-width="1"/>
<line x1="401.7" y1="385.4" x2="401.7" y2="389.7" stroke="#000" stroke-width="1"/>
<line x1="458.3" y1="393.0" x2="458.3" y2="397.3" stroke="#000" stroke-width="1"/>
<line x1="515.5" y1="400.7" x2="515.5" y2="405.0" stroke="#000" stroke-width="1"/>
<polygon points="233.6,343.7 242.4,336.9 242.4,348.2 233.6,355.0" fill="url(#gBSide)" stroke="#000060" stroke-width="0.6" stroke-linejoin="round"/>
<polygon points="213.1,341.2 221.9,334.5 242.4,336.9 233.6,343.7" fill="#0000d8" stroke="#000070" stroke-width="0.6" stroke-linejoin="round"/>
<polygon points="213.1,341.2 233.6,343.7 233.6,355.0 213.3,352.9" fill="url(#gFront)" stroke="#000070" stroke-width="0.6" stroke-linejoin="round"/>
<polygon points="284.4,306.0 292.2,298.8 292.2,354.5 284.4,362.3" fill="url(#gBSide)" stroke="#000060" stroke-width="0.6" stroke-linejoin="round"/>
<polygon points="263.5,303.7 270.7,296.8 292.2,298.8 284.4,306.0" fill="#0000d8" stroke="#000070" stroke-width="0.6" stroke-linejoin="round"/>
<polygon points="263.5,303.7 284.4,306.0 284.4,362.3 264.1,359.7" fill="url(#gFront)" stroke="#000070" stroke-width="0.6" stroke-linejoin="round"/>
<polygon points="336.4,239.0 344.5,233.0 344.9,361.4 337.3,369.8" fill="url(#gBSide)" stroke="#000060" stroke-width="0.6" stroke-linejoin="round"/>
<polygon points="314.8,236.4 322.8,230.4 344.5,233.0 336.4,239.0" fill="#0000d8" stroke="#000070" stroke-width="0.6" stroke-linejoin="round"/>
<polygon points="314.8,236.4 336.4,239.0 337.3,369.8 316.3,366.6" fill="url(#gFront)" stroke="#000070" stroke-width="0.6" stroke-linejoin="round"/>
<polygon points="392.3,161.6 399.9,156.2 399.1,369.0 391.1,377.0" fill="url(#gBSide)" stroke="#000060" stroke-width="0.6" stroke-linejoin="round"/>
<polygon points="369.5,159.5 377.1,154.3 399.9,156.2 392.3,161.6" fill="#0000d8" stroke="#000070" stroke-width="0.6" stroke-linejoin="round"/>
<polygon points="369.5,159.5 392.3,161.6 391.1,377.0 369.4,373.8" fill="url(#gFront)" stroke="#000070" stroke-width="0.6" stroke-linejoin="round"/>
<polygon points="451.6,64.4 458.8,60.2 453.8,376.3 446.7,384.3" fill="url(#gBSide)" stroke="#000060" stroke-width="0.6" stroke-linejoin="round"/>
<polygon points="427.6,62.4 434.5,58.3 458.8,60.2 451.6,64.4" fill="#0000d8" stroke="#000070" stroke-width="0.6" stroke-linejoin="round"/>
<polygon points="427.6,62.4 451.6,64.4 446.7,384.3 424.2,381.1" fill="url(#gFront)" stroke="#000070" stroke-width="0.6" stroke-linejoin="round"/>
<polygon points="509.7,134.9 516.2,130.2 509.3,384.3 503.4,392.3" fill="url(#gBSide)" stroke="#000060" stroke-width="0.6" stroke-linejoin="round"/>
<polygon points="486.3,132.8 492.1,127.6 516.2,130.2 509.7,134.9" fill="#0000d8" stroke="#000070" stroke-width="0.6" stroke-linejoin="round"/>
<polygon points="486.3,132.8 509.7,134.9 503.4,392.3 480.4,388.8" fill="url(#gFront)" stroke="#000070" stroke-width="0.6" stroke-linejoin="round"/>
<text x="217.0" y="331.8" font-size="21" font-weight="bold" fill="#fff" textLength="11.7" lengthAdjust="spacingAndGlyphs">2</text>
<text x="268.4" y="294.1" font-size="21" font-weight="bold" fill="#fff" textLength="11.1" lengthAdjust="spacingAndGlyphs">9</text>
<text x="313.9" y="227.6" font-size="21" font-weight="bold" fill="#fff" textLength="22.5" lengthAdjust="spacingAndGlyphs">20</text>
<text x="368.3" y="151" font-size="21" font-weight="bold" fill="#fff" textLength="22.4" lengthAdjust="spacingAndGlyphs">32</text>
<text x="427.6" y="64" font-size="21" font-weight="bold" fill="#fff" textLength="22.4" lengthAdjust="spacingAndGlyphs">46</text>
<text x="482.1" y="124.1" font-size="21" font-weight="bold" fill="#fff" textLength="22.1" lengthAdjust="spacingAndGlyphs">37</text>
<text x="193" y="55.3" font-size="29.8" fill="#e6e6e6" stroke="#e6e6e6" stroke-width="1.3" stroke-linejoin="round" textLength="144.5" lengthAdjust="spacingAndGlyphs">CHICAGO</text>
<text x="185" y="78.4" font-size="29.8" fill="#e6e6e6" stroke="#e6e6e6" stroke-width="1.3" stroke-linejoin="round" textLength="162" lengthAdjust="spacingAndGlyphs">1873-2017</text>
<text x="161.2" y="436.3" font-size="14.6" font-weight="bold" fill="#000" textLength="252.6" lengthAdjust="spacingAndGlyphs">Temperatures (in degrees Fahrenheit)</text>
<text transform="translate(143.9,225.0) rotate(-90)" font-size="14.6" font-weight="bold" fill="#000" textLength="73.6" lengthAdjust="spacingAndGlyphs">Frequency</text>
<text x="203.8" y="380.1" font-size="12.6" font-weight="bold" fill="#000" textLength="24.7" lengthAdjust="spacingAndGlyphs">&lt;-10</text>
<text x="249.8" y="388.2" font-size="12.6" font-weight="bold" fill="#000" textLength="35.2" lengthAdjust="spacingAndGlyphs">-10- -1</text>
<text x="311.9" y="394.4" font-size="12.6" font-weight="bold" fill="#000" textLength="17.1" lengthAdjust="spacingAndGlyphs">0-9</text>
<text x="360" y="402.1" font-size="12.6" font-weight="bold" fill="#000" textLength="30.5" lengthAdjust="spacingAndGlyphs">10-19</text>
<text x="414.8" y="409.4" font-size="12.6" font-weight="bold" fill="#000" textLength="31.0" lengthAdjust="spacingAndGlyphs">20-29</text>
<text x="476.4" y="416.5" font-size="12.6" font-weight="bold" fill="#000" textLength="20.1" lengthAdjust="spacingAndGlyphs">30&gt;</text>
<g font-size="26.8" font-weight="bold" fill="#141414" stroke="#141414" stroke-width="0.55" stroke-linejoin="round" filter="url(#sh)">
<text transform="translate(19.13,88.0) scale(0.769,1)">C</text>
<text transform="translate(18.04,128.7) scale(0.877,1)">H</text>
<text transform="translate(18.69,169.0) scale(0.781,1)">R</text>
<text transform="translate(23.12,208.0) scale(1.073,1)">I</text>
<text transform="translate(20.36,248.0) scale(0.734,1)">S</text>
<text transform="translate(19.72,288.4) scale(0.846,1)">T</text>
<text transform="translate(13.92,329.3) scale(1.135,1)">M</text>
<text transform="translate(18.14,369.0) scale(0.955,1)">A</text>
<text transform="translate(20.33,409.8) scale(0.783,1)">S</text>
</g>
<g font-size="22.6" fill="url(#gLet)" stroke="#213d79" stroke-width="1.05" stroke-linejoin="round" filter="url(#sh2)">
<text transform="translate(615.95,37.2) scale(0.893,1)">T</text>
<text transform="translate(616.60,70.7) scale(0.748,1)">E</text>
<text transform="translate(611.17,103.5) scale(1.093,1)">M</text>
<text transform="translate(615.04,136.5) scale(0.836,1)">P</text>
<text transform="translate(616.46,169.5) scale(0.716,1)">E</text>
<text transform="translate(615.30,204.0) scale(0.804,1)">R</text>
<text transform="translate(614.45,238.2) scale(0.911,1)">A</text>
<text transform="translate(615.02,272.1) scale(0.947,1)">T</text>
<text transform="translate(613.91,306.0) scale(0.977,1)">U</text>
<text transform="translate(615.30,341.2) scale(0.804,1)">R</text>
<text transform="translate(616.46,375.7) scale(0.716,1)">E</text>
<text transform="translate(616.01,409.5) scale(0.817,1)">S</text>
<text transform="translate(583.78,189.3) scale(0.757,1)">L</text>
<text transform="translate(580.13,222.5) scale(0.904,1)">O</text>
<text transform="translate(577.75,256.1) scale(0.927,1)">W</text>
</g>
</svg></body></html>
